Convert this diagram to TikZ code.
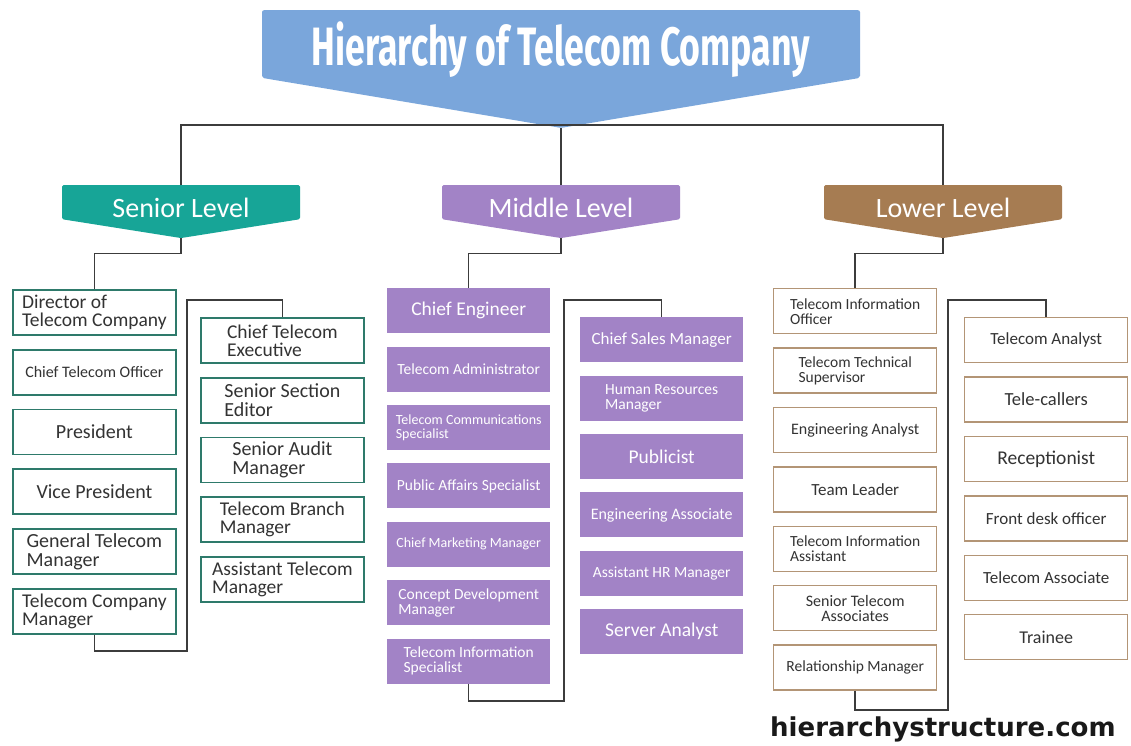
\documentclass[tikz,border=0pt]{standalone}
\usepackage{fontspec}
\usepackage{tikz}
\usetikzlibrary{positioning,shapes.symbols}
\setmainfont{Carlito}
\newfontfamily\titlefont[FakeStretch=0.66]{Fira Sans}
\newfontfamily\webfont{DejaVu Sans}
\definecolor{titleBlue}{HTML}{7AA6DB}
\definecolor{seniorTeal}{HTML}{17A597}
\definecolor{seniorEdge}{HTML}{2E7A6B}
\definecolor{middlePurple}{HTML}{A283C6}
\definecolor{lowerBrown}{HTML}{A67C52}
\definecolor{lowerEdge}{HTML}{B39576}
\definecolor{linkGray}{HTML}{3C3C3C}
\definecolor{inkGray}{HTML}{333333}

\begin{document}
\begin{tikzpicture}[
  x=1pt, y=-1pt,
  node distance=13pt,
  banner/.style={signal, signal to=south, text=white, minimum width=238pt, minimum height=42pt,
    signal pointer angle=162, rounded corners=1.5pt, inner sep=2pt, text height=30pt, text depth=0pt,
    font=\fontsize{28}{28}\selectfont},
  base/.style={rectangle, minimum width=163pt, minimum height=45pt, inner sep=2pt, align=center},
  sbox/.style={base, draw=seniorEdge, line width=1.8pt, text=inkGray, font=\fontsize{20}{18.5}\selectfont},
  mbox/.style={base, fill=middlePurple, text=white, font=\fontsize{15.5}{15}\selectfont},
  lbox/.style={base, draw=lowerEdge, line width=1.4pt, text=inkGray, font=\fontsize{15.5}{15}\selectfont},
  fbig/.style={font=\fontsize{19.5}{18}\selectfont},
  fmid/.style={font=\fontsize{17}{16}\selectfont},
  fsmall/.style={font=\fontsize{16}{15}\selectfont},
  ftiny/.style={font=\fontsize{14}{14}\selectfont},
  link/.style={draw=linkGray, line width=1.5pt}
]
\fill[white] (0,0) rectangle (1131,745);
\useasboundingbox (0,0) rectangle (1131,745);

\node[signal, signal to=south, fill=titleBlue, text=white, minimum width=598pt, minimum height=106pt,
  signal pointer angle=161, rounded corners=2pt, anchor=north, text height=52pt, text depth=9pt,
  font=\titlefont\bfseries\fontsize{54}{54}\selectfont] (title) at (561,10) {Hierarchy of Telecom Company};

\node[banner, fill=seniorTeal, anchor=north] (senior) at (181,185) {Senior Level};
\node[banner, fill=middlePurple, anchor=north] (middle) at (561,185) {Middle Level};
\node[banner, fill=lowerBrown, anchor=north] (lower) at (943,185) {Lower Level};

% senior level
\node[sbox, fbig, anchor=north west, align=left] (dir) at (12,289) {Director of\\Telecom Company};
\node[sbox, fsmall, below=of dir] (cto) {Chief Telecom Officer};
\node[sbox, below=of cto] (pres) {President};
\node[sbox, below=of pres] (vp) {Vice President};
\node[sbox, below=of vp, align=left] (gtm) {General Telecom\\Manager};
\node[sbox, fbig, below=of gtm, align=left] (tcm) {Telecom Company\\Manager};
\node[sbox, fbig, anchor=north west, align=left] (cte) at (200,317) {Chief Telecom\\Executive};
\node[sbox, below=of cte, align=left] (sse) {Senior Section\\Editor};
\node[sbox, below=of sse, align=left] (sam) {Senior Audit\\Manager};
\node[sbox, fbig, below=of sam, align=left] (tbm) {Telecom Branch\\Manager};
\node[sbox, fbig, below=of tbm, align=left] (atm) {Assistant Telecom\\Manager};

% middle level
\node[mbox, fbig, anchor=north west] (ce) at (387,288) {Chief Engineer};
\node[mbox, below=of ce] (tad) {Telecom Administrator};
\node[mbox, ftiny, below=of tad, align=left] (tcs) {Telecom Communications\\Specialist};
\node[mbox, below=of tcs] (pas) {Public Affairs Specialist};
\node[mbox, ftiny, below=of pas] (cmm) {Chief Marketing Manager};
\node[mbox, below=of cmm, align=left] (cdm) {Concept Development\\Manager};
\node[mbox, below=of cdm, align=left] (tis) {Telecom Information\\Specialist};
\node[mbox, fmid, anchor=north west] (csm) at (580,317) {Chief Sales Manager};
\node[mbox, below=of csm, align=left] (hrm) {Human Resources\\Manager};
\node[mbox, fbig, below=of hrm] (pub) {Publicist};
\node[mbox, fsmall, below=of pub] (ea) {Engineering Associate};
\node[mbox, below=of ea] (ahr) {Assistant HR Manager};
\node[mbox, fbig, below=of ahr] (sa) {Server Analyst};

% lower level
\node[lbox, anchor=north west, align=left] (tio) at (773,288) {Telecom Information\\Officer};
\node[lbox, below=of tio, align=left] (tts) {Telecom Technical\\Supervisor};
\node[lbox, fsmall, below=of tts] (ean) {Engineering Analyst};
\node[lbox, fmid, below=of ean] (tl) {Team Leader};
\node[lbox, below=of tl, align=left] (tia) {Telecom Information\\Assistant};
\node[lbox, fsmall, below=of tia] (sta) {Senior Telecom\\Associates};
\node[lbox, below=of sta] (rm) {Relationship Manager};
\node[lbox, fmid, anchor=north west] (ta) at (964,317) {Telecom Analyst};
\node[lbox, font=\fontsize{18.5}{16}\selectfont, below=of ta] (tc) {Tele-callers};
\node[lbox, fbig, below=of tc] (rec) {Receptionist};
\node[lbox, fmid, below=of rec] (fdo) {Front desk officer};
\node[lbox, fmid, below=of fdo] (tas) {Telecom Associate};
\node[lbox, font=\fontsize{18}{16}\selectfont, below=of tas] (tr) {Trainee};

\node[anchor=base west, inner sep=0pt, text=black!90,
  font=\webfont\bfseries\fontsize{26}{26}\selectfont] (web) at (770,736) {hierarchystructure.com};

\coordinate (hub) at (561,125);
\coordinate (sturn) at (187,300);
\coordinate (mturn) at (564,300);
\coordinate (lturn) at (948,300);

\draw[link] (title.south) -- (middle.north);
\draw[link] (senior.north) |- (hub) -| (lower.north);
\draw[link] (senior.south) -- ++(0,15) -| (dir.north);
\draw[link] (middle.south) -- ++(0,15) -| (ce.north);
\draw[link] (lower.south) -- ++(0,15) -| (tio.north);
\draw[link] (tcm.south) -- ++(0,16) -| (sturn) -| (cte.north);
\draw[link] (tis.south) -- ++(0,17) -| (mturn) -| (csm.north);
\draw[link] (rm.south) -- ++(0,19) -| (lturn) -| (ta.north);
\end{tikzpicture}
\end{document}
